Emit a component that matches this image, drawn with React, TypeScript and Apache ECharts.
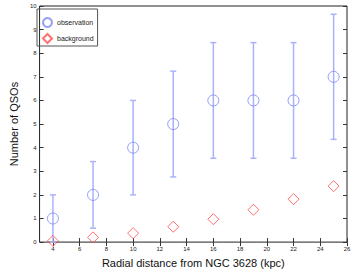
import React, { useEffect, useRef } from "react";
import * as echarts from "echarts";

const radius = [4, 7, 10, 13, 16, 19, 22, 25];
const observation = [1, 2, 4, 5, 6, 6, 6, 7];
const errLow = [0, 0.59, 2, 2.76, 3.55, 3.55, 3.55, 4.35];
const errHigh = [2, 3.41, 6, 7.24, 8.45, 8.45, 8.45, 9.65];
const background = [0.05, 0.2, 0.38, 0.65, 0.97, 1.37, 1.82, 2.37];
const xTicks = [4, 6, 8, 10, 12, 14, 16, 18, 20, 22, 24, 26];

const FONT = "Liberation Sans";
const BLUE = "#7a86f5";
const BAR = "#a9b2fa";
const RED = "#ff4c4c";

export default function App() {
  const ref = useRef<HTMLDivElement>(null);
  useEffect(() => {
    const chart = echarts.init(ref.current!, null, { renderer: "svg" });
    const tickStyle = { inside: true, length: 4, lineStyle: { color: "#333" } };
    chart.setOption({
      animation: false,
      textStyle: { fontFamily: FONT },
      grid: { left: 33.5, right: 7, top: 6, bottom: 28, show: true, borderColor: "#222", borderWidth: 1, backgroundColor: "#fff" },
      legend: {
        left: 37,
        top: 9,
        orient: "vertical",
        borderColor: "#555",
        borderWidth: 1,
        padding: [8, 4, 2, 5],
        itemGap: 5,
        itemWidth: 9,
        itemHeight: 9,
        textStyle: { fontSize: 7, fontFamily: FONT, color: "#222" },
        data: [
          { name: "observation", icon: "circle" },
          { name: "background", icon: "diamond" },
        ],
      },
      xAxis: [
        {
          type: "value",
          min: 3,
          max: 26,
          position: "bottom",
          axisLine: { show: false },
          splitLine: { show: false },
          axisTick: { ...tickStyle, customValues: xTicks },
          axisLabel: { customValues: xTicks, fontSize: 6, color: "#222", margin: 4, fontFamily: FONT },
          name: "Radial distance from NGC 3628 (kpc)",
          nameLocation: "middle",
          nameGap: 12,
          nameTextStyle: { fontSize: 11, color: "#111", fontFamily: FONT },
        },
        {
          type: "value",
          min: 3,
          max: 26,
          position: "top",
          axisLine: { show: false },
          splitLine: { show: false },
          axisTick: { ...tickStyle, customValues: xTicks },
          axisLabel: { show: false },
        },
      ],
      yAxis: [
        {
          type: "value",
          min: 0,
          max: 10,
          interval: 1,
          position: "left",
          axisLine: { show: false },
          splitLine: { show: false },
          axisTick: tickStyle,
          axisLabel: { fontSize: 6, color: "#222", margin: 3, fontFamily: FONT, showMinLabel: true, showMaxLabel: true },
          name: "Number of QSOs",
          nameLocation: "middle",
          nameGap: 17,
          nameTextStyle: { fontSize: 11, color: "#111", fontFamily: FONT },
        },
        {
          type: "value",
          min: 0,
          max: 10,
          interval: 1,
          position: "right",
          axisLine: { show: false },
          splitLine: { show: false },
          axisTick: tickStyle,
          axisLabel: { show: false },
        },
      ],
      series: [
        {
          type: "custom",
          name: "errors",
          data: radius.map((r, i) => [r, errLow[i], errHigh[i]]),
          encode: { x: 0, y: [1, 2] },
          renderItem: (params: any, api: any) => {
            const x = api.value(0);
            const lo = api.coord([x, api.value(1)]);
            const hi = api.coord([x, api.value(2)]);
            const cap = 3;
            const style = { stroke: BAR, lineWidth: 1.5 };
            return {
              type: "group",
              children: [
                { type: "line", shape: { x1: lo[0], y1: lo[1], x2: hi[0], y2: hi[1] }, style },
                { type: "line", shape: { x1: lo[0] - cap, y1: lo[1], x2: lo[0] + cap, y2: lo[1] }, style },
                { type: "line", shape: { x1: hi[0] - cap, y1: hi[1], x2: hi[0] + cap, y2: hi[1] }, style },
              ],
            };
          },
          z: 1,
        },
        {
          type: "scatter",
          name: "observation",
          symbol: "circle",
          symbolSize: 11,
          data: radius.map((r, i) => [r, observation[i]]),
          itemStyle: { color: "rgba(255,255,255,0)", borderColor: BLUE, borderWidth: 1 },
          z: 3,
        },
        {
          type: "scatter",
          name: "background",
          symbol: "diamond",
          symbolSize: 11,
          data: radius.map((r, i) => [r, background[i]]),
          itemStyle: { color: "rgba(255,255,255,0)", borderColor: RED, borderWidth: 1 },
          z: 3,
        },
      ],
    });
    return () => chart.dispose();
  }, []);
  return <div ref={ref} style={{ width: 354, height: 273, position: "absolute", left: 0, top: 0 }} />;
}
